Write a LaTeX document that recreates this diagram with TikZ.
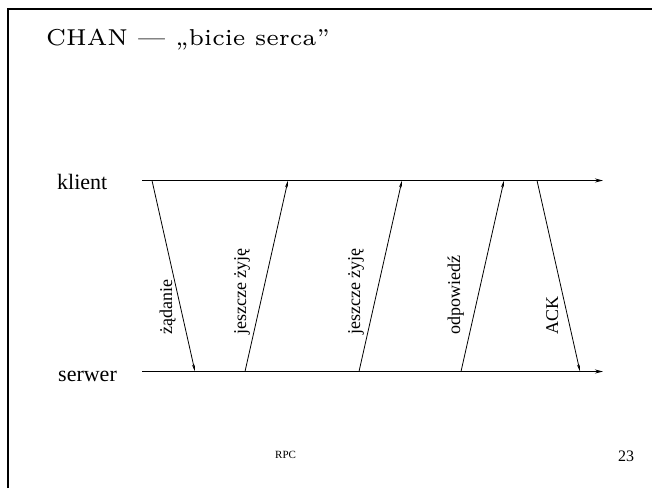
\documentclass[tikz,border=0pt]{standalone}
\usepackage{fontspec}
\newfontfamily\tmsfont{Liberation Serif}
\newfontfamily\titlefont{lmroman6-regular}[Extension=.otf]
\usetikzlibrary{arrows.meta}
\begin{document}
\begin{tikzpicture}[x=1pt,y=-1pt,
  lane/.style={line width=1.3pt,-{Stealth[length=8pt,width=4pt]}},
  msg/.style={line width=0.8pt,-{Stealth[length=7pt,width=3pt]}},
  lab/.style={font=\tmsfont\fontsize{18}{20}\selectfont,rotate=90,anchor=base west,inner sep=0pt},
  side/.style={font=\tmsfont\fontsize{22}{24}\selectfont,anchor=base west,inner sep=0pt}]
\useasboundingbox (0,0) rectangle (652,488);
\draw[line width=2pt] (7.5,488) -- (7.5,8.5) -- (652,8.5);
\node[anchor=base west,inner sep=0pt,font=\titlefont\fontsize{23}{28}\selectfont] (title) at (46,45) {CHAN — „bicie serca”};
\node[side] (kl) at (57,189) {klient};
\node[side] (sv) at (58,381) {serwer};
\coordinate (k0) at (142,180.5);
\coordinate (k1) at (603,180.5);
\coordinate (s0) at (142,371.5);
\coordinate (s1) at (603,371.5);
\draw[lane] (k0) -- (k1);
\draw[lane] (s0) -- (s1);
\coordinate (a1) at (152,180.5); \coordinate (b1) at (195,371.5);
\coordinate (a2) at (245,371.5); \coordinate (b2) at (288,180.5);
\coordinate (a3) at (359,371.5); \coordinate (b3) at (402,180.5);
\coordinate (a4) at (461,371.5); \coordinate (b4) at (504,180.5);
\coordinate (a5) at (537,180.5); \coordinate (b5) at (580,371.5);
\draw[msg] (a1) -- (b1);
\draw[msg] (a2) -- (b2);
\draw[msg] (a3) -- (b3);
\draw[msg] (a4) -- (b4);
\draw[msg] (a5) -- (b5);
\node[lab] (l1) at (172,335) {żądanie};
\node[lab] (l2) at (246,335) {jeszcze żyję};
\node[lab] (l3) at (360,335) {jeszcze żyję};
\node[lab] (l4) at (460,335) {odpowiedź};
\node[lab] (l5) at (558,335) {ACK};
\node[anchor=base west,inner sep=0pt,font=\tmsfont\fontsize{11}{12}\selectfont] (rpc) at (275,458) {RPC};
\node[anchor=base west,inner sep=0pt,font=\tmsfont\fontsize{16}{18}\selectfont] (pg) at (618,461) {23};
\end{tikzpicture}
\end{document}
